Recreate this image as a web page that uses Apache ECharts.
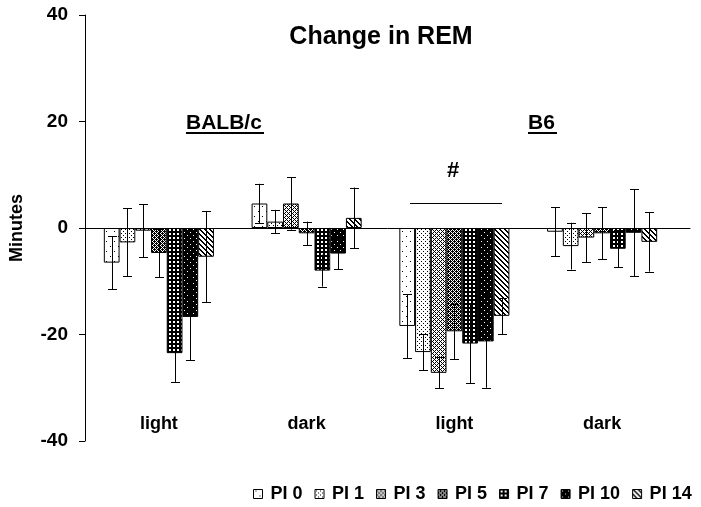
<!DOCTYPE html>
<html>
<head>
<meta charset="utf-8">
<script src="https://cdn.jsdelivr.net/npm/echarts@6/dist/echarts.min.js"></script>
<style>html,body{margin:0;padding:0;background:#fff}#c{width:701px;height:507px}</style>
</head>
<body>
<div id="c"></div>
<script>
// ---------- data ----------
var categories = ['light', 'dark', 'light', 'dark'];
var seriesNames = ['PI 0', 'PI 1', 'PI 3', 'PI 5', 'PI 7', 'PI 10', 'PI 14'];
var valPI0  = [-6.5,  4.6, -18.4, -0.7];
var valPI1  = [-2.7,  1.2, -23.3, -3.4];
var valPI3  = [-0.5,  4.6, -27.2, -1.8];
var valPI5  = [-4.7, -1.0, -19.4, -1.0];
var valPI7  = [-23.5, -8.0, -21.7, -3.9];
var valPI10 = [-16.7, -4.8, -21.3, -0.9];
var valPI14 = [-5.4,  1.9, -16.5, -2.6];
var sdPI0  = [5.0, 3.7, 6.0, 4.6];
var sdPI1  = [6.4, 2.2, 3.4, 4.4];
var sdPI3  = [5.0, 4.9, 2.9, 4.6];
var sdPI5  = [4.5, 2.2, 5.2, 4.9];
var sdPI7  = [5.4, 3.0, 7.5, 3.5];
var sdPI10 = [8.1, 2.9, 8.7, 8.2];
var sdPI14 = [8.5, 5.7, 3.4, 5.6];
var yTicks = [-40, -20, 0, 20, 40];
var groupLabels = ['BALB/c', 'B6'];

var values = [valPI0, valPI1, valPI3, valPI5, valPI7, valPI10, valPI14];
var sds = [sdPI0, sdPI1, sdPI3, sdPI5, sdPI7, sdPI10, sdPI14];

// ---------- patterns ----------
function pat(rows, bg, fg) {
  var h = rows.length, w = rows[0].length;
  var cv = document.createElement('canvas');
  cv.width = w; cv.height = h;
  var ctx = cv.getContext('2d');
  ctx.fillStyle = bg; ctx.fillRect(0, 0, w, h);
  ctx.fillStyle = fg;
  for (var y = 0; y < h; y++) for (var x = 0; x < w; x++) if (rows[y][x] === 'X') ctx.fillRect(x, y, 1, 1);
  return { image: cv, repeat: 'repeat' };
}
var patterns = [
  pat(['........','..X.....','........','........','........','........','......X.','........','........','........'], '#fff', '#000'),
  pat(['....','.X..','....','...X'], '#fff', '#000'),
  pat(['.X.X','X...','.X.X','..X.'], '#fff', '#000'),
  pat(['X.X.','.XXX','X.X.','XX.X'], '#fff', '#000'),
  pat(['....','.XX.','.XX.','....'], '#000', '#fff'),
  pat(['......','.X....','......','......','....X.','......'], '#000', '#fff'),
  pat(['XX...','.XX..','..XX.','...XX','X...X'], '#fff', '#000')
];

var FONT = 'Liberation Sans, Arial, sans-serif';
var GAP = 0.255;

var series = [];
for (var s = 0; s < seriesNames.length; s++) {
  series.push({
    name: seriesNames[s], type: 'bar', xAxisIndex: 0, yAxisIndex: 0,
    data: values[s], barGap: '0%', barCategoryGap: (GAP * 100) + '%',
    itemStyle: { color: patterns[s], borderColor: '#000', borderWidth: 1 },
    emphasis: { disabled: true }, animation: false
  });
}
var errData = [];
for (var s2 = 0; s2 < seriesNames.length; s2++) {
  for (var c = 0; c < categories.length; c++) {
    errData.push([c, values[s2][c] - sds[s2][c], values[s2][c] + sds[s2][c], s2]);
  }
}
series.push({
  type: 'custom', xAxisIndex: 0, yAxisIndex: 0, z: 10, animation: false,
  data: errData,
  renderItem: function (params, api) {
    var ci = api.value(0), lo = api.value(1), hi = api.value(2), si = api.value(3);
    var band = api.size([1, 0])[0];
    var bw = band * (1 - GAP) / seriesNames.length;
    var pLo = api.coord([ci, lo]), pHi = api.coord([ci, hi]);
    var x = Math.round(pLo[0] + (si - (seriesNames.length - 1) / 2) * bw) + 0.5;
    var cap = 4.5;
    var st = { stroke: '#000', lineWidth: 1 };
    return { type: 'group', children: [
      { type: 'line', shape: { x1: x, y1: pLo[1], x2: x, y2: pHi[1] }, style: st },
      { type: 'line', shape: { x1: x - cap, y1: Math.round(pLo[1]) + 0.5, x2: x + cap, y2: Math.round(pLo[1]) + 0.5 }, style: st },
      { type: 'line', shape: { x1: x - cap, y1: Math.round(pHi[1]) + 0.5, x2: x + cap, y2: Math.round(pHi[1]) + 0.5 }, style: st }
    ]};
  }
});
// zero line carrier (second grid, wider)
series.push({ type: 'line', xAxisIndex: 1, yAxisIndex: 1, data: [], silent: true });

var chart = echarts.init(document.getElementById('c'), null, { renderer: 'canvas' });
chart.setOption({
  animation: false,
  textStyle: { fontFamily: FONT },
  title: {
    text: 'Change in REM', left: 376, top: 20, textAlign: 'center',
    textStyle: { fontSize: 25, fontWeight: 'bold', color: '#000', fontFamily: FONT }
  },
  grid: [
    { left: 85, right: 25, top: 15, bottom: 66 },
    { left: 85, right: 11, top: 15, bottom: 66 }
  ],
  xAxis: [
    { type: 'category', gridIndex: 0, data: categories,
      axisLine: { show: false }, axisTick: { show: false },
      axisLabel: { margin: -26, fontSize: 18, fontWeight: 'bold', color: '#000', fontFamily: FONT } },
    { type: 'value', gridIndex: 1, min: 0, max: 1, show: true,
      axisLine: { show: true, onZero: true, lineStyle: { color: '#000', width: 1 } },
      axisTick: { show: false }, axisLabel: { show: false }, splitLine: { show: false } }
  ],
  yAxis: [
    { type: 'value', gridIndex: 0, min: yTicks[0], max: yTicks[yTicks.length - 1], interval: 20,
      name: 'Minutes', nameLocation: 'middle', nameRotate: 90, nameGap: 59,
      nameTextStyle: { fontSize: 18, fontWeight: 'bold', color: '#000', fontFamily: FONT },
      axisLine: { show: true, lineStyle: { color: '#000', width: 1 } },
      axisTick: { show: true, inside: false, length: 6, lineStyle: { color: '#000' } },
      axisLabel: { margin: 17, fontSize: 19, fontWeight: 'bold', color: '#000', fontFamily: FONT },
      splitLine: { show: false } },
    { type: 'value', gridIndex: 1, min: -40, max: 40, show: false }
  ],
  legend: {
    data: seriesNames, left: 253, top: 485, width: 448, padding: 0,
    itemWidth: 9, itemHeight: 9, itemGap: 12,
    icon: 'rect', selectedMode: false,
    textStyle: { fontSize: 18, fontWeight: 'bold', color: '#000', fontFamily: FONT, padding: [0, 0, 0, 3] },
    itemStyle: { borderColor: '#000', borderWidth: 1 }
  },
  graphic: [
    { type: 'text', left: 186, top: 113, style: { text: groupLabels[0], font: 'bold 21px ' + FONT, fill: '#000' } },
    { type: 'rect', shape: { x: 186, y: 132, width: 78, height: 2 }, style: { fill: '#000' } },
    { type: 'text', left: 528, top: 113, style: { text: groupLabels[1], font: 'bold 21px ' + FONT, fill: '#000' } },
    { type: 'rect', shape: { x: 528, y: 132, width: 29, height: 2 }, style: { fill: '#000' } },
    { type: 'text', left: 447, top: 160, style: { text: '#', font: 'bold 22px ' + FONT, fill: '#000' } },
    { type: 'line', shape: { x1: 410, y1: 203.5, x2: 502, y2: 203.5 }, style: { stroke: '#000', lineWidth: 1 } }
  ],
  series: series
});
</script>
</body>
</html>
